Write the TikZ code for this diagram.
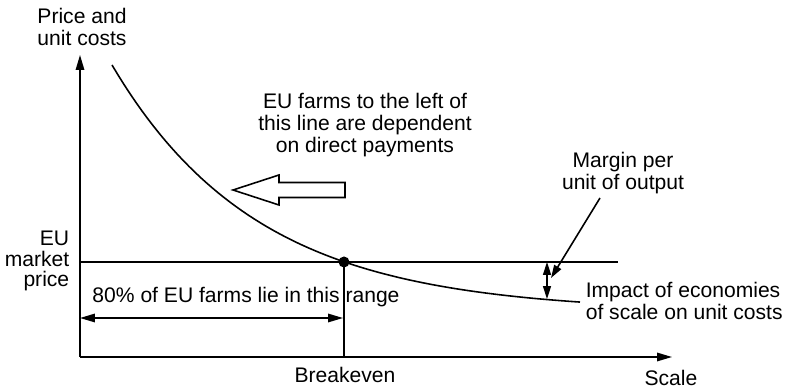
\documentclass[tikz,border=0pt]{standalone}
\usepackage{fontspec}
\setmainfont{Liberation Sans}
\usetikzlibrary{arrows.meta}
\usetikzlibrary{calc}
\tikzset{
  arr/.style={-{Triangle[length=0.3cm,width=0.17cm]}},
  darr/.style={{Triangle[length=0.3cm,width=0.17cm]}-{Triangle[length=0.3cm,width=0.17cm]}},
  lbl/.style={font=\fontsize{12}{12.5}\selectfont, inner sep=0pt}
}
\begin{document}
\begin{tikzpicture}[x=0.02cm,y=-0.02cm,line width=0.9pt]
\useasboundingbox (0,0) rectangle (788,391);
% axes
\coordinate (o) at (80,357);
\coordinate (ytop) at (80,55);
\coordinate (xend) at (672,357);
\draw[arr] (o) -- (ytop);
\draw[arr] (o) -- (xend);
\node[lbl,align=left] (yl) at (82,27) {Price and\\unit costs};
\node[lbl] (xl) at (671,378) {Scale};
% market price line
\coordinate (p0) at (80,262);
\coordinate (p1) at (618,262);
\draw (p0) -- (p1);
\node[lbl,align=right,anchor=east,font=\fontsize{12}{11.6}\selectfont] (mp) at (70,261) {EU\\market\\price};
% unit cost curve
\draw plot[domain=112:580,samples=80] (\x,{312-247*exp(-0.00687*(\x-112))});
% breakeven
\node[circle,fill,inner sep=0pt,minimum size=0.22cm] (be) at (344,262) {};
\draw (be.center) -- (be.center |- o);
\node[lbl] (bel) at (345,375) {Breakeven};
% range of farms
\coordinate (r0) at (80,318);
\coordinate (r1) at (343,318);
\draw[darr] (r0) -- (r1);
\node[lbl] (range) at (246,297) {80\% of EU farms lie in this range};
% dependent farms
\node[lbl,align=center] (dep) at (365,125) {EU farms to the left of\\this line are dependent\\on direct payments};
\draw (345,182.5) -- (279,182.5) -- (279,175) -- (233,190) -- (279,205) -- (279,197.5) -- (345,197.5) -- cycle;
% margin
\coordinate (m0) at (547,262);
\coordinate (m1) at (547,299);
\draw[{Triangle[length=0.26cm,width=0.16cm]}-{Triangle[length=0.26cm,width=0.16cm]}] (m0) -- (m1);
\node[lbl,align=center] (margin) at (623,173) {Margin per\\unit of output};
\coordinate (mtail) at (600,198);
\coordinate (mtip) at (551,278);
\draw[-{Triangle[length=0.26cm,width=0.16cm]}] (mtail) -- (mtip);
\node[lbl,align=left,anchor=west] (impact) at (585,301) {Impact of economies\\of scale on unit costs};
\end{tikzpicture}
\end{document}
